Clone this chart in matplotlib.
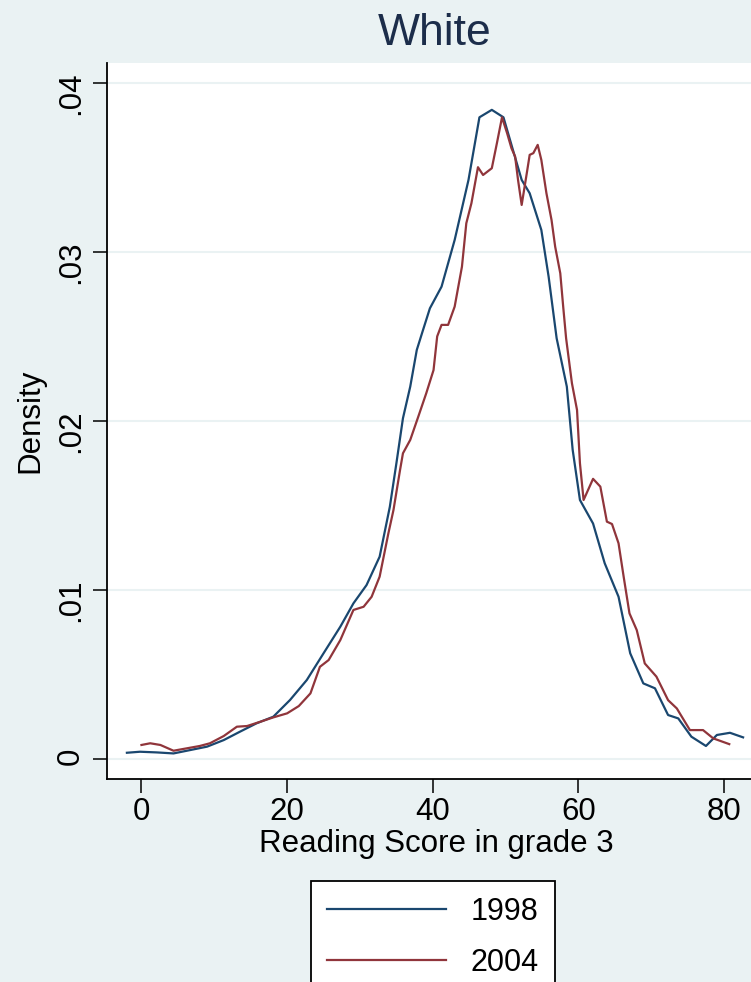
import numpy as np
import matplotlib
matplotlib.use("Agg")
import matplotlib.pyplot as plt

plt.rcParams['font.family'] = ['Liberation Sans', 'DejaVu Sans']

# kernel density, reading score grade 3, White
score_1998 = [-2.0, -0.2, 2.1, 4.4, 6.7, 9.0, 11.3, 13.5, 15.8, 18.1, 20.4, 22.7,
              25.0, 27.3, 29.1, 30.9, 32.7, 34.1, 35.0, 35.9, 36.9, 37.8, 38.6,
              39.6, 41.2, 43.0, 44.9, 46.4, 48.1, 49.7, 51.0, 52.2, 53.3, 54.9,
              55.9, 57.0, 58.4, 59.2, 60.2, 62.0, 63.6, 65.5, 67.1, 68.9, 70.5,
              72.3, 73.7, 75.5, 77.5, 79.0, 80.8, 82.6]
dens_1998 = [0.00039, 0.00045, 0.00041, 0.00035, 0.00055, 0.00075, 0.00114, 0.00163,
             0.00213, 0.00252, 0.00351, 0.00469, 0.00627, 0.00784, 0.00922, 0.0103,
             0.01198, 0.01493, 0.0175, 0.02016, 0.02203, 0.0242, 0.0253, 0.02666,
             0.02794, 0.0307, 0.03425, 0.03795, 0.03839, 0.03795, 0.03602, 0.03425,
             0.03346, 0.03129, 0.02853, 0.02489, 0.02203, 0.0183, 0.01533, 0.01394,
             0.01159, 0.00961, 0.00627, 0.00449, 0.0042, 0.00262, 0.00242, 0.00134,
             0.00079, 0.00144, 0.00157, 0.0013]

score_2004 = [0.0, 1.2, 2.6, 4.4, 6.2, 8.0, 9.4, 11.3, 13.1, 14.5, 16.3, 18.1, 20.0,
              21.6, 23.2, 24.5, 25.7, 27.3, 29.1, 30.5, 31.6, 32.7, 33.9, 34.6, 35.5,
              35.9, 36.9, 38.0, 39.1, 40.1, 40.6, 41.2, 42.1, 43.0, 44.0, 44.6, 45.3,
              46.2, 46.9, 48.1, 48.8, 49.5, 50.2, 50.8, 51.3, 51.7, 52.2, 52.9, 53.3,
              53.8, 54.4, 54.9, 55.6, 56.3, 56.8, 57.5, 57.9, 58.3, 59.1, 59.8, 60.2,
              60.7, 62.0, 63.0, 63.9, 64.6, 65.5, 66.2, 67.0, 68.0, 69.1, 70.7, 72.3,
              73.5, 75.3, 77.1, 78.5, 80.7]
dens_2004 = [0.00085, 0.00095, 0.00085, 0.00051, 0.00065, 0.00079, 0.00095, 0.00138,
             0.00193, 0.00197, 0.00222, 0.00248, 0.00272, 0.00315, 0.0039, 0.00547,
             0.00587, 0.00705, 0.00883, 0.00902, 0.00961, 0.0108, 0.01336, 0.01474,
             0.0171, 0.01809, 0.01888, 0.02025, 0.02164, 0.02301, 0.0250, 0.02568,
             0.02568, 0.02676, 0.02912, 0.03169, 0.03287, 0.035, 0.03454, 0.03494,
             0.03642, 0.03795, 0.03701, 0.03612, 0.03563, 0.03425, 0.03277, 0.03464,
             0.03573, 0.03583, 0.03632, 0.03543, 0.03346, 0.03188, 0.0303, 0.02873,
             0.02676, 0.02489, 0.02223, 0.02065, 0.0175, 0.01533, 0.01658, 0.01612,
             0.01405, 0.01391, 0.01277, 0.0108, 0.00863, 0.00764, 0.00567, 0.00489,
             0.0035, 0.00301, 0.00173, 0.00173, 0.00124, 0.0009]

xticks = [0, 20, 40, 60, 80]
yticks = [0, 0.01, 0.02, 0.03, 0.04]
ytick_labels = ['0', '.01', '.02', '.03', '.04']

bg = '#EAF2F3'
navy = '#1A476F'
maroon = '#90353B'

fig = plt.figure(figsize=(7.51, 9.82), dpi=100, facecolor=bg)
ax = fig.add_axes([0.1425, 0.2064, 0.8654, 0.7298])
ax.set_facecolor('white')

ax.plot(score_1998, dens_1998, color=navy, lw=1.6, label='1998')
ax.plot(score_2004, dens_2004, color=maroon, lw=1.6, label='2004')

ax.set_xlim(-4.73, 84.5)
ax.set_ylim(-0.00118, 0.04118)
ax.set_xticks(xticks)
ax.set_yticks(yticks)
ax.set_yticklabels(ytick_labels)
ax.grid(axis='y', color=bg, lw=1.5)
ax.set_axisbelow(True)

for s in ['top', 'right']:
    ax.spines[s].set_visible(False)
for s in ['left', 'bottom']:
    ax.spines[s].set_linewidth(1.3)
ax.tick_params(axis='both', direction='out', length=10, width=1.1, labelsize=22.5)
ax.tick_params(axis='y', labelrotation=90, pad=5)
ax.tick_params(axis='x', pad=3)

fig.text(435 / 751, 1 - 45 / 982, 'White', fontsize=32, color='#1c2d4a',
         ha='center', va='baseline')
fig.text(436 / 751, 1 - 852 / 982, 'Reading Score in grade 3', fontsize=22.5,
         ha='center', va='baseline')
ax.set_ylabel('Density', fontsize=22.5, labelpad=8)

leg = fig.legend(loc='upper left', bbox_to_anchor=(311 / 751, 1 - 880.7 / 982),
                 borderaxespad=0, fontsize=22, handlelength=3.9, handletextpad=0.8,
                 labelspacing=0.7, borderpad=0.52, fancybox=False, framealpha=1,
                 edgecolor='black')
leg.get_frame().set_linewidth(1.3)
for line in leg.get_lines():
    line.set_linewidth(1.6)

fig.savefig('out.png', dpi=100, facecolor=bg)
